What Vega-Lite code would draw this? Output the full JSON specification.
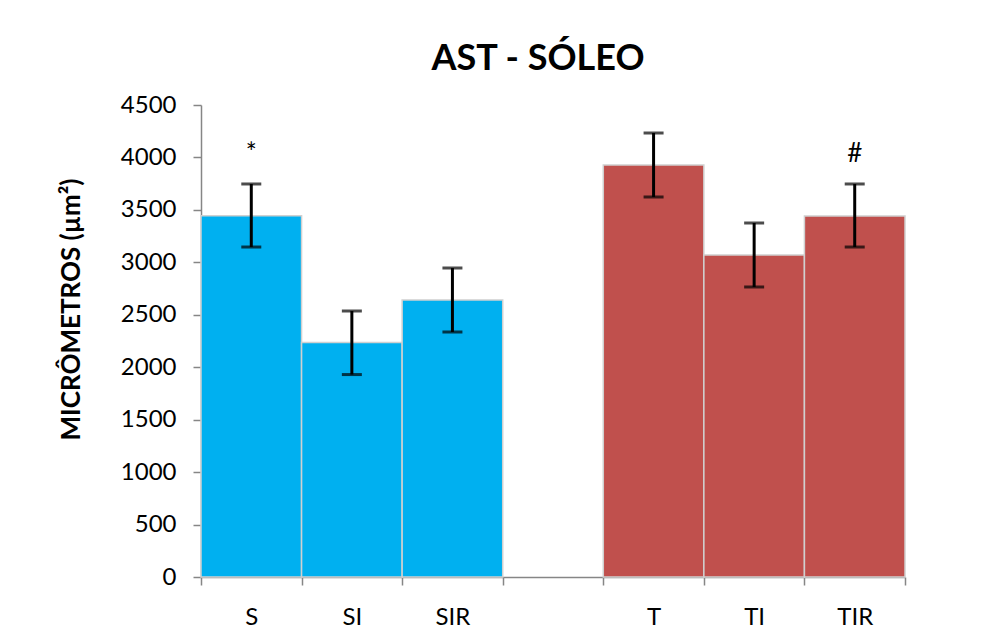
{
  "$schema": "https://vega.github.io/schema/vega-lite/v6.json",
  "width": 704,
  "height": 472,
  "autosize": {"type": "none"},
  "padding": {"left": 201, "top": 105, "right": 88, "bottom": 53},
  "background": "white",
  "config": {"view": {"stroke": null}, "font": "Lato"},
  "title": {
    "text": "AST - SÓLEO",
    "font": "Lato",
    "fontSize": 36,
    "fontWeight": "bold",
    "color": "black",
    "offset": 12,
    "dx": -15
  },
  "data": {
    "values": [
      {"cat": "S", "group": "S", "mean": 3445, "lo": 3146, "hi": 3747, "sig": "*"},
      {"cat": "SI", "group": "S", "mean": 2235, "lo": 1930, "hi": 2536, "sig": ""},
      {"cat": "SIR", "group": "S", "mean": 2641, "lo": 2336, "hi": 2946, "sig": ""},
      {"cat": "T", "group": "T", "mean": 3928, "lo": 3623, "hi": 4233, "sig": ""},
      {"cat": "TI", "group": "T", "mean": 3070, "lo": 2765, "hi": 3375, "sig": ""},
      {"cat": "TIR", "group": "T", "mean": 3441, "lo": 3146, "hi": 3747, "sig": "#"}
    ]
  },
  "encoding": {
    "x": {
      "field": "cat",
      "type": "nominal",
      "sort": null,
      "scale": {"domain": ["S", "SI", "SIR", " ", "T", "TI", "TIR"], "paddingInner": 0, "paddingOuter": 0},
      "axis": {
        "title": null,
        "labelAngle": 0,
        "labelFont": "Lato",
        "labelFontSize": 24,
        "labelColor": "black",
        "labelPadding": 20,
        "domainColor": "#868686",
        "domainWidth": 1.5,
        "tickColor": "#868686",
        "tickWidth": 1.5,
        "tickSize": 8,
        "tickBand": "extent"
      }
    }
  },
  "layer": [
    {
      "mark": {"type": "bar", "stroke": "#d0d0d0", "strokeWidth": 1.5},
      "encoding": {
        "y": {
          "field": "mean",
          "type": "quantitative",
          "scale": {"domain": [0, 4500]},
          "axis": {
            "values": [0, 500, 1000, 1500, 2000, 2500, 3000, 3500, 4000, 4500],
            "format": "d",
            "title": "MICRÔMETROS (µm²)",
            "titleFont": "Lato",
            "titleFontSize": 26,
            "titleFontWeight": "bold",
            "titleColor": "black",
            "titlePadding": 36,
            "titleY": 204,
            "labelFont": "Lato",
            "labelFontSize": 24,
            "labelColor": "black",
            "labelPadding": 17,
            "grid": false,
            "domainColor": "#868686",
            "domainWidth": 1.5,
            "tickColor": "#868686",
            "tickWidth": 1.5,
            "tickSize": 8
          }
        },
        "color": {
          "field": "group",
          "type": "nominal",
          "scale": {"domain": ["S", "T"], "range": ["#00B0F0", "#C0504D"]},
          "legend": null
        }
      }
    },
    {
      "mark": {"type": "rule", "color": "black", "strokeWidth": 3},
      "encoding": {
        "y": {"field": "lo", "type": "quantitative"},
        "y2": {"field": "hi"}
      }
    },
    {
      "mark": {"type": "tick", "color": "black", "size": 20, "thickness": 3, "orient": "horizontal"},
      "encoding": {"y": {"field": "lo", "type": "quantitative"}}
    },
    {
      "mark": {"type": "tick", "color": "black", "size": 20, "thickness": 3, "orient": "horizontal"},
      "encoding": {"y": {"field": "hi", "type": "quantitative"}}
    },
    {
      "mark": {"type": "text", "font": "Lato", "fontSize": 26, "color": "black", "baseline": "middle", "dy": -30},
      "encoding": {
        "y": {"field": "hi", "type": "quantitative"},
        "text": {"field": "sig"}
      }
    }
  ]
}
